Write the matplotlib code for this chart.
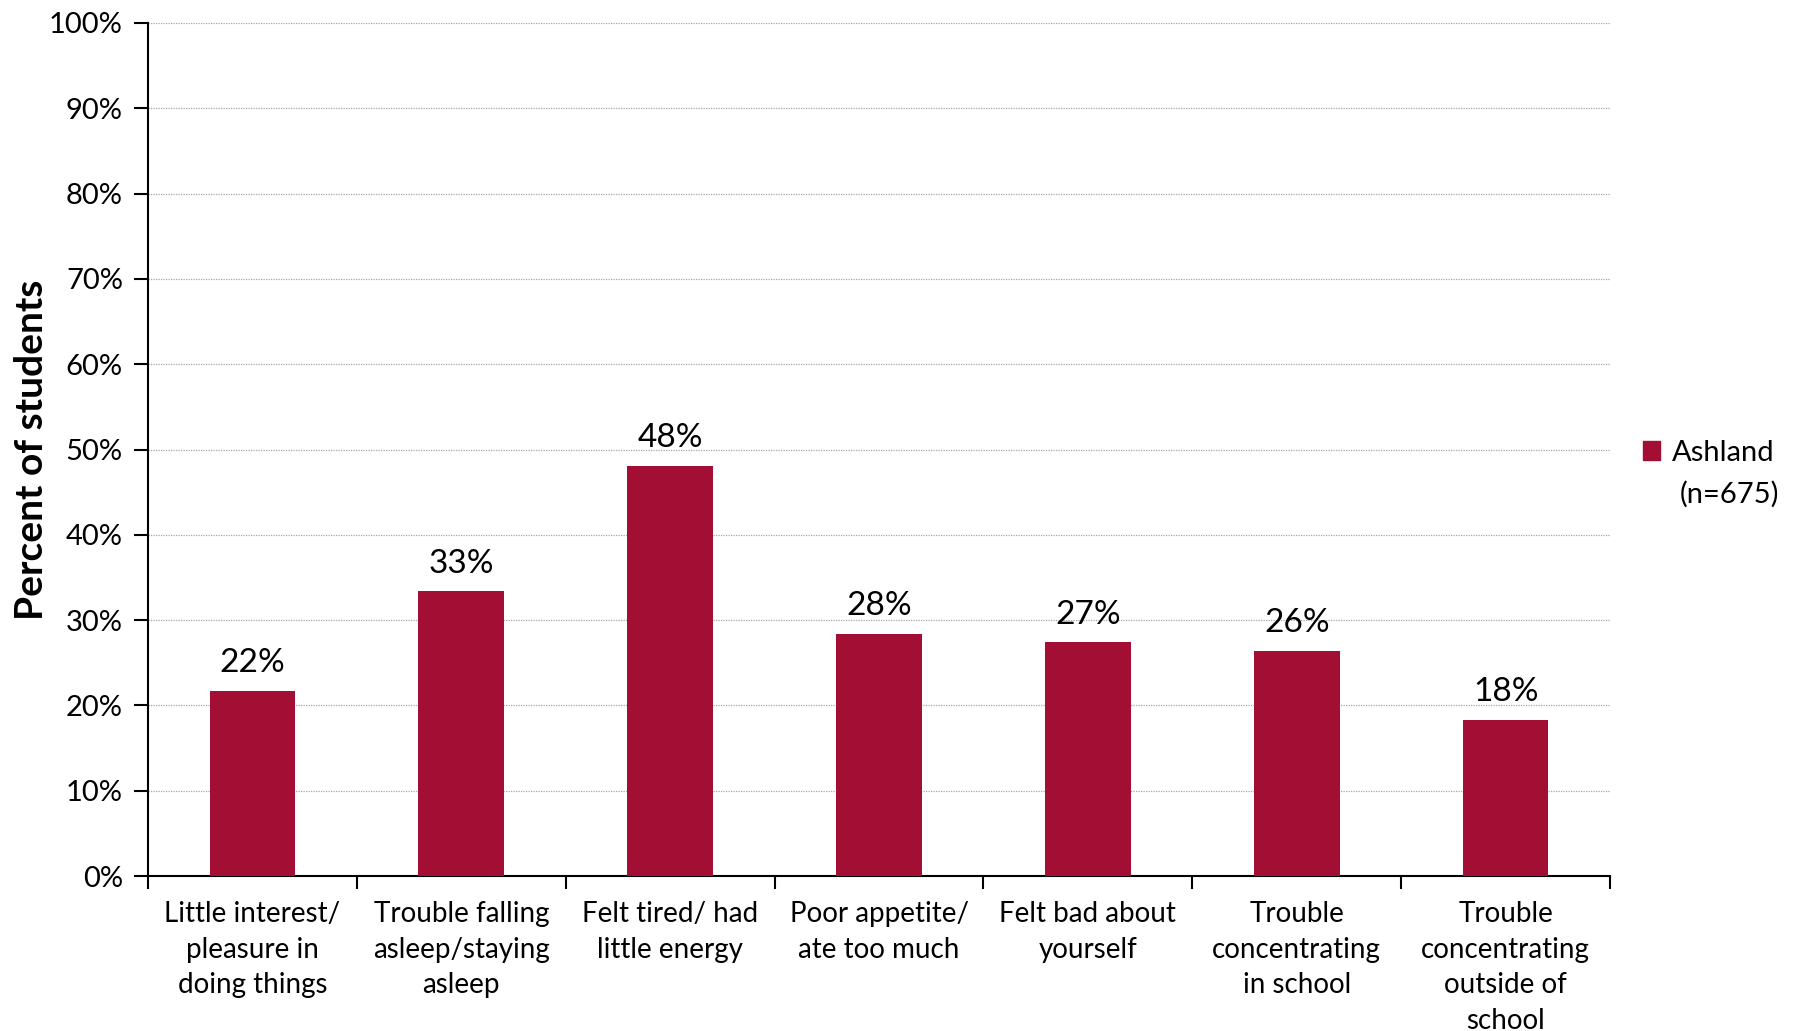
import matplotlib
matplotlib.use("Agg")
import matplotlib.pyplot as plt
from matplotlib.patches import Rectangle

plt.rcParams['font.family'] = ['Lato', 'DejaVu Sans']

categories = [
    "Little interest/\npleasure in\ndoing things",
    "Trouble falling\nasleep/staying\nasleep",
    "Felt tired/ had\nlittle energy",
    "Poor appetite/\nate too much",
    "Felt bad about\nyourself",
    "Trouble\nconcentrating\nin school",
    "Trouble\nconcentrating\noutside of\nschool",
]
values = [21.7, 33.4, 48.1, 28.4, 27.4, 26.4, 18.3]
labels = ["22%", "33%", "48%", "28%", "27%", "26%", "18%"]
yticks = list(range(0, 101, 10))
series_name = "Ashland"
series_n = "(n=675)"

bar_color = '#A30E35'

fig = plt.figure(figsize=(18.02, 10.31), dpi=100)
ax = fig.add_axes([0.0821, 0.1503, 0.8114, 0.8274])

x = list(range(len(categories)))
bars = ax.bar(x, values, width=0.41, color=bar_color, zorder=3, label=series_name)

for b, lab in zip(bars, labels):
    ax.annotate(lab, (b.get_x() + b.get_width() / 2, b.get_height()),
                xytext=(0, 9), textcoords='offset points',
                ha='center', va='bottom', fontsize=24)

ax.set_xlim(-0.5, len(categories) - 0.5)
ax.set_ylim(0, 100)
ax.set_yticks(yticks)
ax.set_yticklabels([f"{t}%" for t in yticks], fontsize=21)
ax.yaxis.grid(True, linestyle=(0, (1, 1)), color='#a6a6a6', linewidth=0.9, zorder=0)

ax.set_xticks(x)
ax.set_xticklabels(categories, fontsize=20, linespacing=1.46)
ax.set_xticks([i - 0.5 for i in range(len(categories) + 1)], minor=True)
ax.tick_params(axis='x', which='major', length=0, pad=18)
ax.tick_params(axis='x', which='minor', length=9, width=1.5, direction='out')
ax.tick_params(axis='y', length=10, width=1.5, direction='out', pad=8)

for s in ['top', 'right']:
    ax.spines[s].set_visible(False)
for s in ['left', 'bottom']:
    ax.spines[s].set_linewidth(1.5)

ax.set_ylabel("Percent of students", fontsize=28, fontweight='bold', labelpad=0)

leg = fig.legend(handles=[Rectangle((0, 0), 1, 1, color=bar_color)], labels=[series_name],
                 loc='center left', bbox_to_anchor=(0.897, 0.561), frameon=False,
                 fontsize=21, handlelength=0.6, handleheight=0.6, handletextpad=0.4)
fig.text(0.960, 0.521, series_n, fontsize=21, ha='center', va='center')

fig.savefig("out.png", dpi=100)
